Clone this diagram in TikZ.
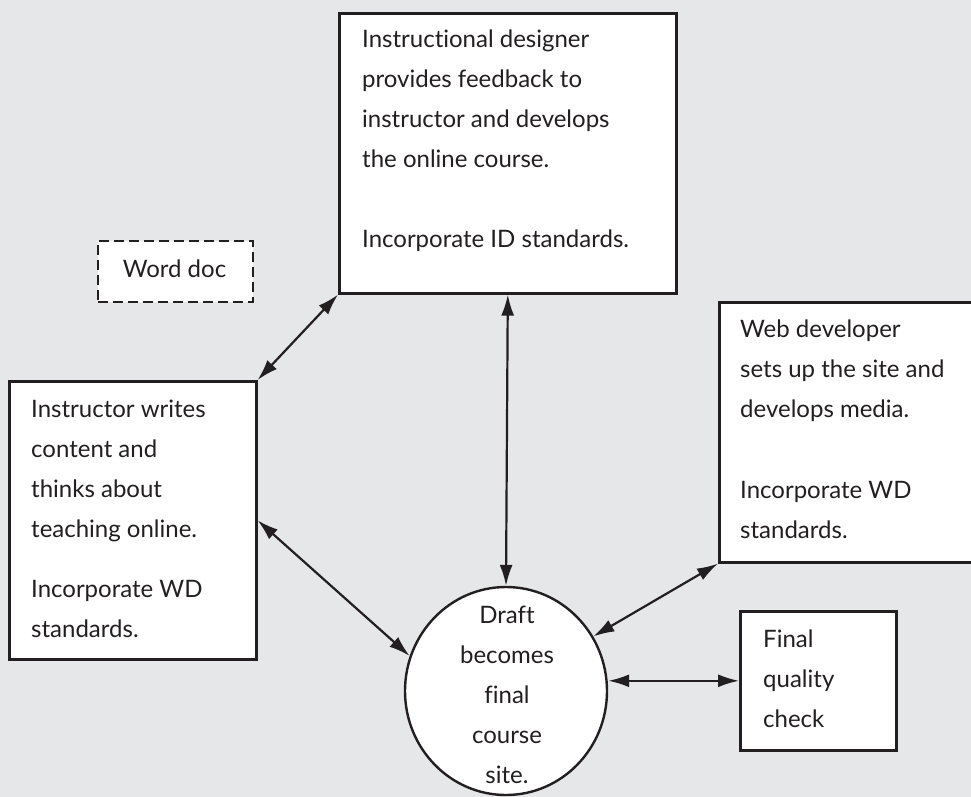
\documentclass[tikz,border=0pt]{standalone}
\usepackage{fontspec}
\setmainfont{Lato}[Ligatures={NoCommon}]
\usetikzlibrary{shapes.geometric,arrows.meta}
\definecolor{bg}{HTML}{E6E7E8}
\definecolor{ink}{HTML}{231F20}
\begin{document}
\begin{tikzpicture}[x=1pt,y=-1pt,
  box/.style={draw=ink, fill=white, line width=2.6pt, rectangle, inner sep=0pt, anchor=north west},
  dbox/.style={draw=ink, fill=white, line width=2.2pt, dash pattern=on 10pt off 5pt, rectangle, inner sep=0pt, anchor=north west},
  txt/.style={inner sep=0pt, text=ink, font=\fontsize{24}{40}\selectfont},
  conn/.style={draw=ink, line width=2.2pt, {Latex[length=21pt,width=13pt]}-{Latex[length=21pt,width=13pt]}}]
\useasboundingbox (0,0) rectangle (971,797);
\fill[bg] (0,0) rectangle (971,797);
% boxes
\node (idbox) [box, minimum width=337pt, minimum height=280pt] at (338,12) {};
\node (word) [dbox, minimum width=155pt, minimum height=61pt] at (97,240) {};
\node (instr) [box, minimum width=247pt, minimum height=278pt] at (8,380) {};
\node (web) [box, minimum width=280pt, minimum height=260pt] at (718,301) {};
\node (final) [box, minimum width=156pt, minimum height=139pt] at (739,610) {};
\node (circ) [draw=ink, fill=white, line width=2.4pt, ellipse, inner sep=0pt, minimum width=202pt, minimum height=208pt] at (506,691) {};
% texts
\node (idtext) [txt, anchor=base west] at (362,48) {\begin{tabular}[t]{@{}l@{}}Instructional designer\\ provides feedback to\\ instructor and develops\\ the online course.\\[40pt] Incorporate ID standards.\end{tabular}};
\node (wordtext) [txt, anchor=base] at (174.5,277) {Word doc};
\node (instrtext) [txt, anchor=base west] at (31,417) {\begin{tabular}[t]{@{}l@{}}Instructor writes\\ content and\\ thinks about\\ teaching online.\\[20pt] Incorporate WD\\ standards.\end{tabular}};
\node (webtext) [txt, anchor=base west] at (740,337) {\begin{tabular}[t]{@{}l@{}}Web developer\\ sets up the site and\\ develops media.\\[41pt] Incorporate WD\\ standards.\end{tabular}};
\node (circtext) [txt, anchor=base] at (507,623) {\begin{tabular}[t]{@{}c@{}}Draft\\ becomes\\ final\\ course\\ site.\end{tabular}};
\node (finaltext) [txt, anchor=base west] at (763,647) {\begin{tabular}[t]{@{}l@{}}Final\\ quality\\ check\end{tabular}};
% connectors
\draw[conn] (idbox.south west) -- (instr.north east);
\draw[conn] (idbox.south) -- (circ.north);
\draw[conn] (instr.east) -- (circ.160);
\draw[conn] (web.south west) -- (circ.32);
\draw[conn] (circ.east |- final.west) -- (final.west);
\end{tikzpicture}
\end{document}
